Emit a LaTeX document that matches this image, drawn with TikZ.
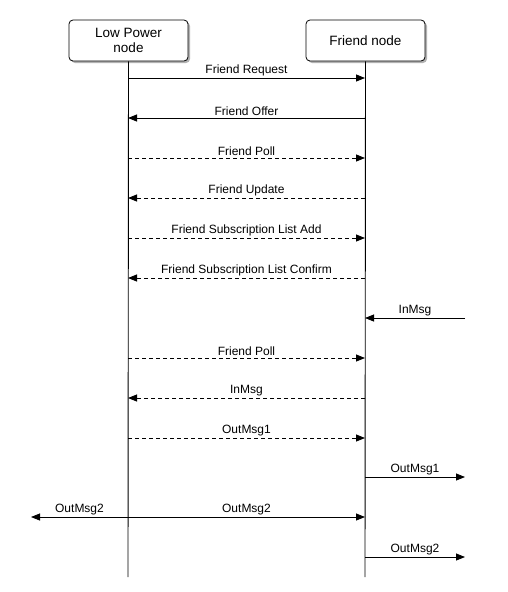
\documentclass[tikz,border=0pt]{standalone}
\usepackage{fontspec}
\setmainfont{Liberation Sans}
\usetikzlibrary{arrows.meta}
\begin{document}
\begin{tikzpicture}[x=1pt,y=-1pt,
  actor/.style={draw,rounded corners=4pt,minimum width=119pt,minimum height=41pt,fill=white,align=center,font=\fontsize{13.5}{15.5}\selectfont,line width=0.8pt},
  msg/.style={-{Triangle[length=9pt,width=7pt]},line width=0.8pt},
  dmsg/.style={msg,dash pattern=on 4pt off 3pt},
  lbl/.style={font=\fontsize{12}{14}\selectfont,above=1pt,inner sep=1pt},
  life/.style={line width=0.9pt}]
\useasboundingbox (0,0) rectangle (507,592);
% shadows
\fill[gray!60,rounded corners=4pt] (71,22) rectangle (190,63);
\fill[gray!60,rounded corners=4pt] (308,22) rectangle (427,63);
\node[actor] (lp) at (128.5,40.5) {Low Power\\node};
\node[actor] (fn) at (365.5,40.5) {Friend node};
\coordinate (lpEnd) at (128,577);
\coordinate (fnEnd) at (365,577);
\draw[life] (lp.south) -- (lpEnd);
\draw[life] (fn.south) -- (fnEnd);
% rows
\foreach \n/\y in {1/78,2/118,3/158,4/198,5/238,6/278,7/318,8/358,9/398,10/438,11/477,12/517,13/557}{
  \coordinate (L\n) at (128,\y);
  \coordinate (F\n) at (365,\y);
}
\coordinate (X7) at (465,318);
\coordinate (X11) at (465,477);
\coordinate (X13) at (465,557);
\coordinate (W12) at (31,517);
\draw[msg] (L1) -- node[lbl]{Friend Request} (F1);
\draw[msg] (F2) -- node[lbl]{Friend Offer} (L2);
\draw[dmsg] (L3) -- node[lbl]{Friend Poll} (F3);
\draw[dmsg] (F4) -- node[lbl]{Friend Update} (L4);
\draw[dmsg] (L5) -- node[lbl]{Friend Subscription List Add} (F5);
\draw[dmsg] (F6) -- node[lbl]{Friend Subscription List Confirm} (L6);
\draw[msg] (X7) -- node[lbl]{InMsg} (F7);
\draw[dmsg] (L8) -- node[lbl]{Friend Poll} (F8);
\draw[dmsg] (F9) -- node[lbl]{InMsg} (L9);
\draw[dmsg] (L10) -- node[lbl]{OutMsg1} (F10);
\draw[msg] (F11) -- node[lbl]{OutMsg1} (X11);
\draw[msg] (L12) -- node[lbl]{OutMsg2} (F12);
\draw[msg] (L12) -- node[lbl]{OutMsg2} (W12);
\draw[msg] (F13) -- node[lbl]{OutMsg2} (X13);
\end{tikzpicture}
\end{document}
